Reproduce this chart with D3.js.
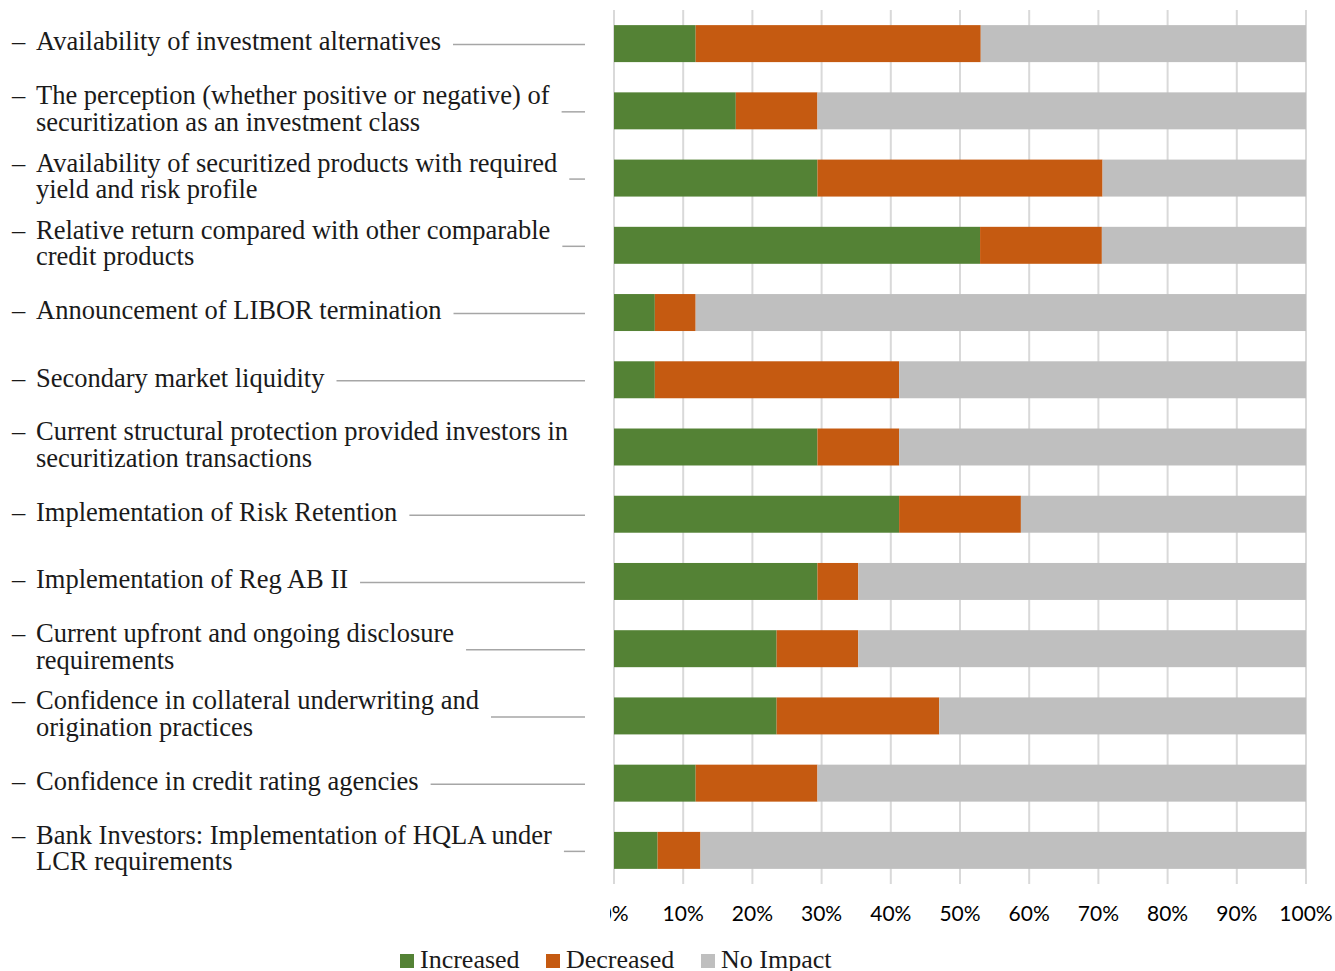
<!DOCTYPE html>
<html>
<head>
<meta charset="utf-8">
<script src="https://cdn.jsdelivr.net/npm/d3@7"></script>
<style>
  html, body { margin: 0; padding: 0; background: #fff; }
  svg { display: block; }
</style>
</head>
<body>
<svg id="chart" width="1335" height="971"></svg>
<script>
// Survey factors (line breaks mark where each label wraps)
const categories = [
  "Availability of investment alternatives",
  "The perception (whether positive or negative) of\nsecuritization as an investment class",
  "Availability of securitized products with required\nyield and risk profile",
  "Relative return compared with other comparable\ncredit products",
  "Announcement of LIBOR termination",
  "Secondary market liquidity",
  "Current structural protection provided investors in\nsecuritization transactions",
  "Implementation of Risk Retention",
  "Implementation of Reg AB II",
  "Current upfront and ongoing disclosure\nrequirements",
  "Confidence in collateral underwriting and\norigination practices",
  "Confidence in credit rating agencies",
  "Bank Investors: Implementation of HQLA under\nLCR requirements"
];

// Share of respondents (%)
const increased = [11.8, 17.6, 29.4, 52.9, 5.9, 5.9, 29.4, 41.2, 29.4, 23.5, 23.5, 11.8, 6.3];
const decreased = [41.2, 11.8, 41.2, 17.6, 5.9, 35.3, 11.8, 17.6, 5.9, 11.8, 23.5, 17.6, 6.2];
const noImpact  = [47.0, 70.6, 29.4, 29.5, 88.2, 58.8, 58.8, 41.2, 64.7, 64.7, 53.0, 70.6, 87.5];

const seriesNames = ["Increased", "Decreased", "No Impact"];
const seriesColors = ["#548235", "#c55a11", "#bfbfbf"];
const tickValues = [0, 10, 20, 30, 40, 50, 60, 70, 80, 90, 100];

const rows = categories.map((c, i) => ({
  category: c,
  "Increased": increased[i],
  "Decreased": decreased[i],
  "No Impact": noImpact[i]
}));

const svg = d3.select("#chart");

const plot = { left: 614, right: 1306, top: 10, bottom: 884 };
const x = d3.scaleLinear().domain([0, 100]).range([plot.left, plot.right]);
const y = d3.scaleBand().domain(categories).range([plot.top, plot.bottom])
  .paddingInner(0.45).paddingOuter(0.225);
const color = d3.scaleOrdinal().domain(seriesNames).range(seriesColors);

// Vertical gridlines
svg.append("g")
  .selectAll("line")
  .data(tickValues)
  .join("line")
  .attr("x1", d => x(d)).attr("x2", d => x(d))
  .attr("y1", plot.top).attr("y2", plot.bottom)
  .attr("stroke", "#d9d9d9")
  .attr("stroke-width", 2);

// Stacked bars
const stacked = d3.stack().keys(seriesNames)(rows);
svg.append("g")
  .selectAll("g")
  .data(stacked)
  .join("g")
  .attr("fill", d => color(d.key))
  .selectAll("rect")
  .data(d => d)
  .join("rect")
  .attr("x", d => x(d[0]))
  .attr("width", d => x(d[1]) - x(d[0]))
  .attr("y", d => y(d.data.category))
  .attr("height", y.bandwidth());

// Percent axis along the bottom (left edge of the first label is cut off)
svg.append("defs").append("clipPath").attr("id", "axisClip")
  .append("rect").attr("x", 610).attr("y", 880).attr("width", 725).attr("height", 60);

const xAxis = d3.axisBottom(x)
  .tickValues(tickValues)
  .tickFormat(d => d + "%")
  .tickSize(0)
  .tickPadding(0);

const axisG = svg.append("g")
  .attr("clip-path", "url(#axisClip)")
  .call(xAxis);
axisG.select(".domain").remove();
axisG.selectAll("text")
  .attr("dy", 0)
  .attr("font-family", "Lato, 'Open Sans', sans-serif")
  .attr("font-size", 21)
  .attr("fill", "#000");
axisG.selectAll(".tick")
  .attr("transform", d => `translate(${x(d)}, 921)`);

// Category labels with leader lines
const labelFont = "'Liberation Serif', 'Times New Roman', serif";
const lineHeight = 26.5;
const textX = 36;
const leaderEnd = 585;

const labels = svg.append("g")
  .attr("font-family", labelFont)
  .attr("font-size", 26.5)
  .attr("fill", "#1a1a1a");

categories.forEach(cat => {
  const lines = cat.split("\n");
  const cy = y(cat) + y.bandwidth() / 2;
  const firstCenter = cy - 2 - (lines.length - 1) * lineHeight / 2;
  const g = labels.append("g");

  g.append("text")
    .attr("x", 12)
    .attr("y", firstCenter)
    .attr("dy", "0.33em")
    .text("\u2013");

  let firstWidth = 0;
  lines.forEach((ln, j) => {
    const t = g.append("text")
      .attr("x", textX)
      .attr("y", firstCenter + j * lineHeight)
      .attr("dy", "0.33em")
      .text(ln);
    if (j === 0) firstWidth = t.node().getComputedTextLength();
  });

  const start = textX + firstWidth + 12;
  if (start < leaderEnd - 8) {
    g.append("line")
      .attr("x1", start).attr("x2", leaderEnd)
      .attr("y1", cy + 1).attr("y2", cy + 1)
      .attr("stroke", "#a6a6a6")
      .attr("stroke-width", 1.5);
  }
});

// Legend
const legend = svg.append("g")
  .attr("font-family", labelFont)
  .attr("font-size", 26)
  .attr("fill", "#1a1a1a");
const legendX = [400, 546, 701];
seriesNames.forEach((name, i) => {
  const g = legend.append("g").attr("transform", `translate(${legendX[i]}, 954)`);
  g.append("rect").attr("width", 14).attr("height", 14).attr("fill", color(name));
  g.append("text").attr("x", 20).attr("y", 14).text(name);
});
</script>
</body>
</html>
